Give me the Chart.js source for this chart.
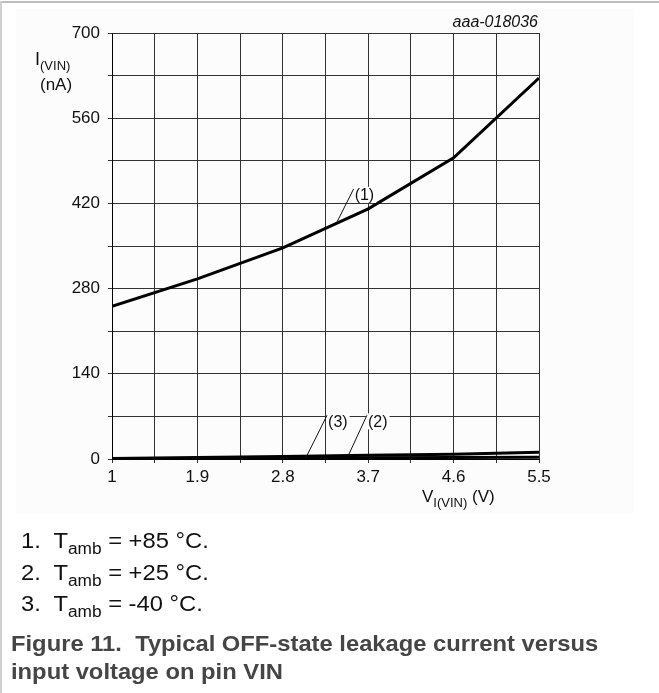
<!DOCTYPE html>
<html>
<head>
<meta charset="utf-8">
<script src="https://cdn.jsdelivr.net/npm/chart.js@4.4.1/dist/chart.umd.min.js"></script>
<style>
    html, body {
        margin: 0;
        padding: 0;
        background: #ffffff;
        font-family: "Liberation Sans", Arial, sans-serif;
    }
    #page {
        position: relative;
        width: 659px;
        height: 693px;
        overflow: hidden;
    }
    #topline { position: absolute; left: 0; top: 1px; width: 659px; height: 2px; background: #bdbdbd; }
    #leftline { position: absolute; left: 0; top: 1px; width: 2px; height: 692px; background: #d0d0d0; }
    #box {
        position: absolute;
        left: 16px;
        top: 9px;
        width: 618px;
        height: 505px;
        background: #fcfcfc;
    }
    #chart { position: absolute; left: 0; top: 0; }
    .lbl {
        position: absolute;
        color: #111;
        white-space: nowrap;
        line-height: 1;
    }
    sub {
        vertical-align: baseline;
        position: relative;
        line-height: 0;
    }
    .lbl sub { font-size: 13px; top: 5px; }
    .wide { transform: scaleX(1.08); transform-origin: 0 0; }
    #legend {
        position: absolute;
        left: 21px;
        top: 525px;
        font-size: 22px;
        color: #111;
        line-height: 31.5px;
    }
    #legend sub { font-size: 16px; top: 6px; }
    #legend span.n { display: inline-block; width: 30px; }
    #caption {
        position: absolute;
        left: 11px;
        top: 630px;
        font-size: 22px;
        font-weight: bold;
        color: #454545;
        line-height: 28px;
        white-space: nowrap;
    }
</style>
</head>
<body>
<div id="page">
    <div id="topline"></div>
    <div id="leftline"></div>
    <div id="box"></div>
    <canvas id="chart" width="659" height="693"></canvas>

    <div class="lbl" style="right:121px; top:14px; font-style:italic; font-size:16px;">aaa-018036</div>
    <div class="lbl" style="left:35px; top:50px; font-size:18px;">I<sub>(VIN)</sub></div>
    <div class="lbl" style="left:40px; top:76px; font-size:17px;">(nA)</div>
    <div class="lbl" style="left:422px; top:488px; font-size:17px;">V<sub>I(VIN)</sub> (V)</div>

    <div id="legend" class="wide">
        <div><span class="n">1.</span>T<sub>amb</sub> = +85 °C.</div>
        <div><span class="n">2.</span>T<sub>amb</sub> = +25 °C.</div>
        <div><span class="n">3.</span>T<sub>amb</sub> = -40 °C.</div>
    </div>
    <div id="caption" class="wide">Figure 11.&nbsp; Typical OFF-state leakage current versus<br>input voltage on pin VIN</div>
</div>

<script>
// input voltage (V)
const voltages = [1, 1.9, 2.8, 3.7, 4.6, 5.5];
// leakage current (nA) per temperature
const leak85 = [251, 296, 347, 411, 495, 626];
const leak25 = [1, 2.5, 4, 6, 8, 11];
const leakMinus40 = [0.5, 1, 1.5, 2, 2.5, 3];

const xTicks = [1, 1.9, 2.8, 3.7, 4.6, 5.5];
const yTicks = [0, 140, 280, 420, 560, 700];

// curve tags: [text, point on curve (x, y), label centre (x, y)]
const curveTags = [
    ["(1)", [3.37, 389], [3.66, 434]],
    ["(3)", [3.04, 1.2], [3.38, 62]],
    ["(2)", [3.49, 5.5], [3.8, 62]]
];

const FONT = "'Liberation Sans', Arial, sans-serif";

function toPoints(ys) {
    return voltages.map((v, i) => ({ x: v, y: ys[i] }));
}

const tagPlugin = {
    id: "curveTags",
    afterDatasetsDraw(chart) {
        const ctx = chart.ctx;
        const xs = chart.scales.x;
        const ys = chart.scales.y;
        ctx.save();
        ctx.font = "16px " + FONT;
        ctx.textBaseline = "middle";
        ctx.textAlign = "center";
        curveTags.forEach(t => {
            const px = xs.getPixelForValue(t[1][0]);
            const py = ys.getPixelForValue(t[1][1]);
            const lx = xs.getPixelForValue(t[2][0]);
            const ly = ys.getPixelForValue(t[2][1]);
            const w = ctx.measureText(t[0]).width;
            ctx.fillStyle = "#ffffff";
            ctx.fillRect(lx - w / 2 - 2, ly - 8, w + 4, 16);
            ctx.strokeStyle = "#111";
            ctx.lineWidth = 1;
            ctx.beginPath();
            ctx.moveTo(px, py);
            ctx.lineTo(lx - w / 2 - 1, ly - 6);
            ctx.stroke();
            ctx.fillStyle = "#111";
            ctx.fillText(t[0], lx, ly + 1);
        });
        ctx.restore();
    }
};

const lineStyle = {
    borderColor: "#000",
    borderWidth: 3,
    pointRadius: 0,
    tension: 0,
    fill: false
};

new Chart(document.getElementById("chart"), {
    type: "line",
    data: {
        datasets: [
            Object.assign({ label: "+85 °C", data: toPoints(leak85) }, lineStyle),
            Object.assign({ label: "+25 °C", data: toPoints(leak25) }, lineStyle),
            Object.assign({ label: "-40 °C", data: toPoints(leakMinus40) }, lineStyle)
        ]
    },
    options: {
        responsive: false,
        animation: false,
        maintainAspectRatio: false,
        layout: { padding: { top: 33, right: 120, left: 0, bottom: 180 } },
        plugins: {
            legend: { display: false },
            tooltip: { enabled: false }
        },
        scales: {
            x: {
                type: "linear",
                min: 1,
                max: 5.5,
                afterBuildTicks(axis) {
                    const t = [];
                    for (let i = 0; i <= 10; i++) t.push({ value: 1 + i * 0.45 });
                    axis.ticks = t;
                },
                afterFit(axis) {
                    axis.height = 54;
                    axis.paddingLeft = 0;
                    axis.paddingRight = 0;
                },
                ticks: {
                    color: "#111",
                    font: { size: 17, family: FONT },
                    padding: 4,
                    maxRotation: 0,
                    autoSkip: false,
                    callback(v) {
                        const hit = xTicks.find(k => Math.abs(k - v) < 1e-6);
                        return hit === undefined ? "" : String(hit);
                    }
                },
                grid: { color: "#333", lineWidth: 1, tickLength: 4 },
                border: { color: "#000", width: 1 }
            },
            y: {
                min: 0,
                max: 700,
                afterBuildTicks(axis) {
                    const t = [];
                    for (let v = 0; v <= 700; v += 70) t.push({ value: v });
                    axis.ticks = t;
                },
                afterFit(axis) {
                    axis.width = 112;
                    axis.paddingTop = 0;
                    axis.paddingBottom = 0;
                },
                ticks: {
                    color: "#111",
                    font: { size: 17, family: FONT },
                    padding: 8,
                    autoSkip: false,
                    callback(v) {
                        return yTicks.includes(v) ? String(v) : "";
                    }
                },
                grid: { color: "#333", lineWidth: 1, tickLength: 4 },
                border: { color: "#000", width: 1 }
            }
        }
    },
    plugins: [tagPlugin]
});
</script>
</body>
</html>
